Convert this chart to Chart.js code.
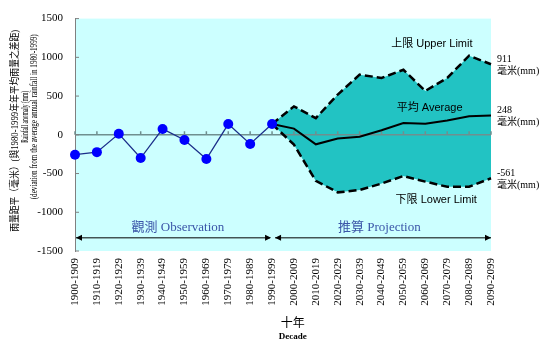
<!DOCTYPE html>
<html>
<head>
<meta charset="utf-8">
<script src="https://cdn.jsdelivr.net/npm/chart.js@4"></script>
<style>
  html, body { margin: 0; padding: 0; background: #fff; }
  #wrap { width: 550px; height: 351px; }
</style>
</head>
<body>
<div id="wrap"><canvas id="chart" width="550" height="351"></canvas></div>
<script>
// 十年 / decades
const decades = ['1900-1909', '1910-1919', '1920-1929', '1930-1939', '1940-1949',
  '1950-1959', '1960-1969', '1970-1979', '1980-1989', '1990-1999',
  '2000-2009', '2010-2019', '2020-2029', '2030-2039', '2040-2049',
  '2050-2059', '2060-2069', '2070-2079', '2080-2089', '2090-2099'];

// 觀測 Observation (mm)
const observed = [-257, -224, 13, -300, 76, -67, -313, 139, -118, 139,
  null, null, null, null, null, null, null, null, null, null];

// 推算 Projection (mm)
const upperLimit = [null, null, null, null, null, null, null, null, null, 139,
  367, 215, 520, 776, 734, 839, 566, 734, 1021, 911];
const average = [null, null, null, null, null, null, null, null, null, 139,
  80, -123, -47, -25, 59, 152, 143, 186, 240, 248];
const lowerLimit = [null, null, null, null, null, null, null, null, null, 139,
  -127, -595, -743, -713, -629, -532, -604, -671, -671, -561];

const yTicks = [-1500, -1000, -500, 0, 500, 1000, 1500];

const serif = '"Liberation Serif", "Times New Roman", "Noto Sans CJK TC", serif';
const sans = '"Liberation Sans", Arial, "Noto Sans CJK TC", sans-serif';

// фон области построения
const plotBackground = {
  id: 'plotBackground',
  beforeDraw(chart) {
    const { ctx, chartArea: a } = chart;
    ctx.save();
    ctx.fillStyle = '#ccffff';
    ctx.fillRect(a.left, a.top, a.right - a.left, a.bottom - a.top);
    ctx.restore();
  },
};

// нулевая линия и засечки (поверх заливки, под линиями)
const zeroAxis = {
  id: 'zeroAxis',
  beforeDatasetsDraw(chart) {
    const { ctx, chartArea: a, scales: { x, y } } = chart;
    const y0 = y.getPixelForValue(0);
    ctx.save();
    ctx.strokeStyle = '#6f8f8f';
    ctx.lineWidth = 1.5;
    ctx.beginPath();
    ctx.moveTo(a.left, y0);
    ctx.lineTo(a.right, y0);
    decades.forEach((d, i) => {
      const px = x.getPixelForValue(i);
      ctx.moveTo(px, y0 - 3.5);
      ctx.lineTo(px, y0);
    });
    ctx.stroke();
    // внутренние засечки оси Y
    ctx.strokeStyle = '#808080';
    ctx.lineWidth = 1;
    ctx.beginPath();
    yTicks.forEach((v) => {
      const py = y.getPixelForValue(v);
      ctx.moveTo(a.left, py);
      ctx.lineTo(a.left + 4, py);
    });
    ctx.stroke();
    ctx.restore();
  },
};

function arrowHead(ctx, x, y, dir) {
  ctx.beginPath();
  ctx.moveTo(x, y);
  ctx.lineTo(x - dir * 6, y - 3);
  ctx.lineTo(x - dir * 6, y + 3);
  ctx.closePath();
  ctx.fill();
}

// подписи, стрелки и заголовки осей
const annotations = {
  id: 'annotations',
  afterDraw(chart) {
    const { ctx, scales: { x, y } } = chart;
    ctx.save();

    // стрелки периодов
    const ya = y.getPixelForValue(-1330);
    const x0 = x.getPixelForValue(0);
    const x9 = x.getPixelForValue(9);
    const x19 = x.getPixelForValue(19);
    ctx.strokeStyle = '#000';
    ctx.fillStyle = '#000';
    ctx.lineWidth = 1;
    ctx.beginPath();
    ctx.moveTo(x0 + 1, ya);
    ctx.lineTo(x9 - 2, ya);
    ctx.moveTo(x9 + 3, ya);
    ctx.lineTo(x19, ya);
    ctx.stroke();
    arrowHead(ctx, x0 + 1, ya, -1);
    arrowHead(ctx, x9 - 1, ya, 1);
    arrowHead(ctx, x9 + 3, ya, -1);
    arrowHead(ctx, x19, ya, 1);

    ctx.textAlign = 'center';
    ctx.textBaseline = 'middle';
    ctx.fillStyle = '#3a55a8';
    ctx.font = '13px ' + serif;
    ctx.fillText('觀測 Observation', x.getPixelForValue(4.7), y.getPixelForValue(-1200));
    ctx.fillText('推算 Projection', x.getPixelForValue(13.9), y.getPixelForValue(-1200));

    ctx.fillStyle = '#000';
    ctx.font = '11px ' + sans;
    ctx.fillText('上限 Upper Limit', x.getPixelForValue(16.3), y.getPixelForValue(1175));
    ctx.fillText('平均 Average', x.getPixelForValue(16.2), y.getPixelForValue(340));
    ctx.fillText('下限 Lower Limit', x.getPixelForValue(16.5), y.getPixelForValue(-835));

    // значения на правом краю
    ctx.textAlign = 'left';
    ctx.font = '10px ' + serif;
    const xr = x.getPixelForValue(19) + 6;
    [upperLimit[19], average[19], lowerLimit[19]].forEach((v) => {
      const py = y.getPixelForValue(v);
      ctx.fillText(String(v), xr, py - 5);
      ctx.fillText('毫米(mm)', xr, py + 7);
    });

    // заголовок оси X
    ctx.textAlign = 'center';
    const xt = x.getPixelForValue(9.95);
    ctx.font = '12px ' + serif;
    ctx.fillText('十年', xt, 324);
    ctx.font = 'bold 9px ' + serif;
    ctx.fillText('Decade', xt, 337);

    // заголовок оси Y (три строки)
    const yc = (y.top + y.bottom) / 2;
    ctx.save();
    ctx.rotate(-Math.PI / 2);
    ctx.font = '10px ' + serif;
    ctx.fillText('雨量距平（毫米）(與1980-1999年年平均雨量之差距)', -(yc - 4), 15, 202);
    ctx.fillText('Rainfall anomaly (mm)', -(yc - 18), 25, 52);
    ctx.font = '9.5px ' + serif;
    ctx.fillText('(deviation from the average annual rainfall in 1980-1999)', -(yc - 18), 34, 165);
    ctx.restore();

    ctx.restore();
  },
};

const ctx = document.getElementById('chart').getContext('2d');
new Chart(ctx, {
  type: 'line',
  data: {
    labels: decades,
    datasets: [
      {
        label: 'Observation',
        data: observed,
        borderColor: '#1c2f8a',
        borderWidth: 1.3,
        pointRadius: 5,
        pointBackgroundColor: '#0000ff',
        pointBorderWidth: 0,
        fill: false,
        tension: 0,
      },
      {
        label: 'Upper Limit',
        data: upperLimit,
        borderColor: '#000',
        borderWidth: 2.5,
        borderDash: [8, 4],
        pointRadius: 0,
        fill: { target: '+2' },
        backgroundColor: '#22c3c3',
        tension: 0,
      },
      {
        label: 'Average',
        data: average,
        borderColor: '#000',
        borderWidth: 2,
        pointRadius: 0,
        fill: false,
        tension: 0,
      },
      {
        label: 'Lower Limit',
        data: lowerLimit,
        borderColor: '#000',
        borderWidth: 2.5,
        borderDash: [8, 4],
        pointRadius: 0,
        fill: false,
        tension: 0,
      },
    ],
  },
  options: {
    animation: false,
    responsive: false,
    maintainAspectRatio: false,
    layout: { padding: { top: 14, right: 59, left: 0, bottom: 0 } },
    plugins: {
      legend: { display: false },
      tooltip: { enabled: false },
      filler: { drawTime: 'beforeDatasetsDraw' },
    },
    scales: {
      x: {
        offset: false,
        grid: { display: false, drawTicks: false },
        border: { display: false },
        ticks: {
          autoSkip: false,
          minRotation: 90,
          maxRotation: 90,
          padding: 7,
          color: '#000',
          font: { family: serif, size: 11 },
        },
        afterFit: (scale) => { scale.height = 100; },
      },
      y: {
        min: -1500,
        max: 1500,
        grid: { display: false, drawTicks: false },
        border: { display: true, color: '#808080', width: 1 },
        ticks: {
          stepSize: 500,
          padding: 12,
          color: '#000',
          font: { family: serif, size: 11 },
          callback: (value) => String(value),
        },
        afterFit: (scale) => { scale.width = 75; },
      },
    },
  },
  plugins: [plotBackground, zeroAxis, annotations],
});
</script>
</body>
</html>
